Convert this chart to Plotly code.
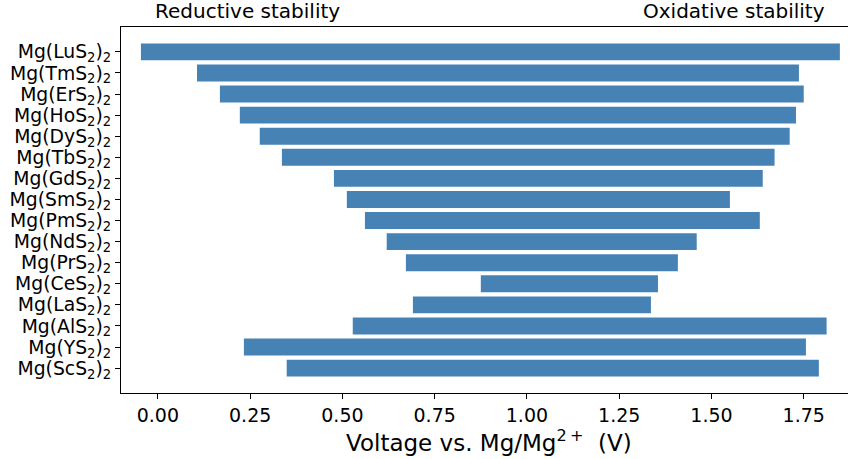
import plotly.graph_objects as go

# Compounds, listed bottom to top
compounds = ["ScS", "YS", "AlS", "LaS", "CeS", "PrS", "NdS", "PmS",
             "SmS", "GdS", "TbS", "DyS", "HoS", "ErS", "TmS", "LuS"]
labels = [f"Mg({c}<sub>2</sub>)<sub>2</sub>" for c in compounds]

# Electrochemical stability window limits (V vs. Mg/Mg2+)
reduction_limit = [0.349, 0.233, 0.528, 0.691, 0.875, 0.672, 0.620, 0.561,
                   0.512, 0.477, 0.336, 0.276, 0.222, 0.168, 0.106, -0.046]
oxidation_limit = [1.791, 1.756, 1.812, 1.336, 1.355, 1.409, 1.460, 1.631,
                   1.550, 1.639, 1.671, 1.712, 1.729, 1.750, 1.737, 1.848]

x_ticks = [0.0, 0.25, 0.5, 0.75, 1.0, 1.25, 1.5, 1.75]

widths = [o - r for o, r in zip(oxidation_limit, reduction_limit)]

FONT = "DejaVu Sans"
W, H = 849, 459
ML, MR, MT, MB = 121, 1, 27, 66

fig = go.Figure(go.Bar(
    y=labels,
    x=widths,
    base=reduction_limit,
    orientation="h",
    width=0.8,
    marker=dict(color="#4682b4", line=dict(width=0)),
    hoverinfo="skip",
))

plot_w = W - ML - MR
plot_h = H - MT - MB

def px_to_paper_x(px):
    return (px - ML) / plot_w

def px_to_paper_y(py):
    return (H - MB - py) / plot_h

fig.update_layout(
    width=W, height=H,
    margin=dict(l=ML, r=MR, t=MT, b=MB, pad=0),
    paper_bgcolor="white", plot_bgcolor="white",
    font=dict(family=FONT, size=19, color="black"),
    showlegend=False,
    xaxis=dict(
        range=[-0.100, 1.870],
        tickvals=x_ticks,
        ticktext=[f"{v:.2f}" for v in x_ticks],
        showline=True, linecolor="black", linewidth=1.1, mirror=True,
        ticks="outside", ticklen=5, tickwidth=1.1, tickcolor="black",
        showgrid=False, zeroline=False,
        tickfont=dict(size=19),
    ),
    yaxis=dict(
        type="category",
        categoryorder="array", categoryarray=labels,
        tickmode="array", tickvals=labels, ticktext=labels,
        range=[-1.18, 16.18],
        showline=True, linecolor="black", linewidth=1.1,
        ticks="outside", ticklen=5, tickwidth=1.1, tickcolor="black",
        showgrid=False, zeroline=False,
        tickfont=dict(size=18.8),
    ),
    annotations=[
        dict(text="Reductive stability", xref="paper", yref="paper",
             x=px_to_paper_x(153), y=1.0, xanchor="left", yanchor="bottom",
             yshift=2, showarrow=False, font=dict(size=20, family=FONT)),
        dict(text="Oxidative stability", xref="paper", yref="paper",
             x=px_to_paper_x(827), y=1.0, xanchor="right", yanchor="bottom",
             yshift=2, showarrow=False, font=dict(size=20, family=FONT)),
        dict(text="Voltage vs. Mg/Mg<sup>2\u2009+</sup>\u00a0 (V)",
             xref="paper", yref="paper",
             x=px_to_paper_x(489), y=px_to_paper_y(441),
             xanchor="center", yanchor="middle",
             showarrow=False, font=dict(size=23, family=FONT)),
    ],
)

fig.write_html("out.html")
